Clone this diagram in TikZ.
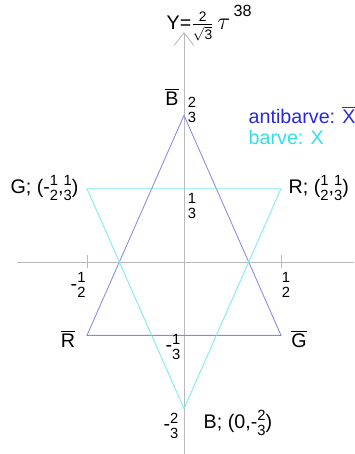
\documentclass[tikz,border=0pt]{standalone}
\usepackage{amsmath}
\usepackage{fontspec}
\setmainfont{Liberation Sans}
\usetikzlibrary{arrows.meta}
\definecolor{antiblue}{RGB}{136,136,230}
\definecolor{barcyan}{RGB}{120,235,240}
\definecolor{axisgray}{RGB}{185,185,185}
\definecolor{antitext}{RGB}{40,40,225}
\definecolor{bartext}{RGB}{50,225,230}
\newcommand{\fr}[2]{$\vcenter{\hbox{\fontsize{10.5}{11}\selectfont\shortstack{#1\\#2}}}$}
\newcommand{\barlet}[1]{$\overline{\text{#1}}$}

\begin{document}
\begin{tikzpicture}[
  x=4.85cm, y=5.5cm,
  axis/.style={draw=axisgray, line width=0.6pt},
  anti/.style={draw=antiblue, line width=0.6pt},
  bar/.style={draw=barcyan, line width=0.6pt},
  lbl/.style={font=\fontsize{14}{16}\selectfont, inner sep=1pt}
]
\useasboundingbox (-0.9485,-0.8727) rectangle (0.8763,1.1909);

% axes
\coordinate (xl) at (-0.861,0);
\coordinate (xr) at (0.876,0);
\coordinate (yb) at (0,-0.873);
\coordinate (yt) at (0,1.045);
\draw[axis] (xl) -- (xr);
\draw[axis, -{Straight Barb[length=9pt,width=14pt]}] (yb) -- (yt);
\coordinate (tl1) at (-0.5,0.032);
\coordinate (tl2) at (-0.5,-0.027);
\coordinate (tr1) at (0.5,0.032);
\coordinate (tr2) at (0.5,-0.027);
\draw[axis] (tl1) -- (tl2);
\draw[axis] (tr1) -- (tr2);

% antibarve triangle
\coordinate (Bbar) at (0,2/3);
\coordinate (Rbar) at (-0.5,-1/3);
\coordinate (Gbar) at (0.5,-1/3);
\draw[anti] (Bbar) -- (Gbar) -- (Rbar) -- cycle;

% barve triangle
\coordinate (G) at (-0.5,1/3);
\coordinate (R) at (0.5,1/3);
\coordinate (B) at (0,-2/3);
\draw[bar] (G) -- (R) -- (B) -- cycle;

% labels
\node[lbl, anchor=base west] (title) at (-0.098,1.055)
  {Y=$\frac{\text{2}}{\sqrt{\text{3}}}$\,{\fontsize{19}{19}\selectfont$\tau$}\,\raisebox{1.3ex}{\fontsize{11.5}{12}\selectfont 38}};
\node[lbl] (lBbar) at (-0.062,0.75) {\barlet{B}};
\node[lbl] (ltwo) at (0.041,0.691) {\fr{2}{3}};
\node[lbl] (lone) at (0.041,0.255) {\fr{1}{3}};
\node[lbl, anchor=east] (lG) at (-0.536,0.336) {G; (-\fr{1}{2},\fr{1}{3})};
\node[lbl, anchor=west] (lR) at (0.531,0.336) {R; (\fr{1}{2},\fr{1}{3})};
\node[lbl] (lmhalf) at (-0.546,-0.105) {-\fr{1}{2}};
\node[lbl] (lhalf) at (0.526,-0.105) {\fr{1}{2}};
\node[lbl] (lRbar) at (-0.598,-0.35) {\barlet{R}};
\node[lbl] (lGbar) at (0.593,-0.35) {\barlet{G}};
\node[lbl] (lmthird) at (-0.057,-0.386) {-\fr{1}{3}};
\node[lbl] (lmtwo) at (-0.067,-0.745) {-\fr{2}{3}};
\node[lbl, anchor=west] (lB) at (0.093,-0.732) {B; (0,-\fr{2}{3})};
\node[lbl, anchor=west, text=antitext] (lanti) at (0.325,0.668) {antibarve: \barlet{X}};
\node[lbl, anchor=west, text=bartext] (lbarve) at (0.325,0.564) {barve: X};
\end{tikzpicture}
\end{document}
